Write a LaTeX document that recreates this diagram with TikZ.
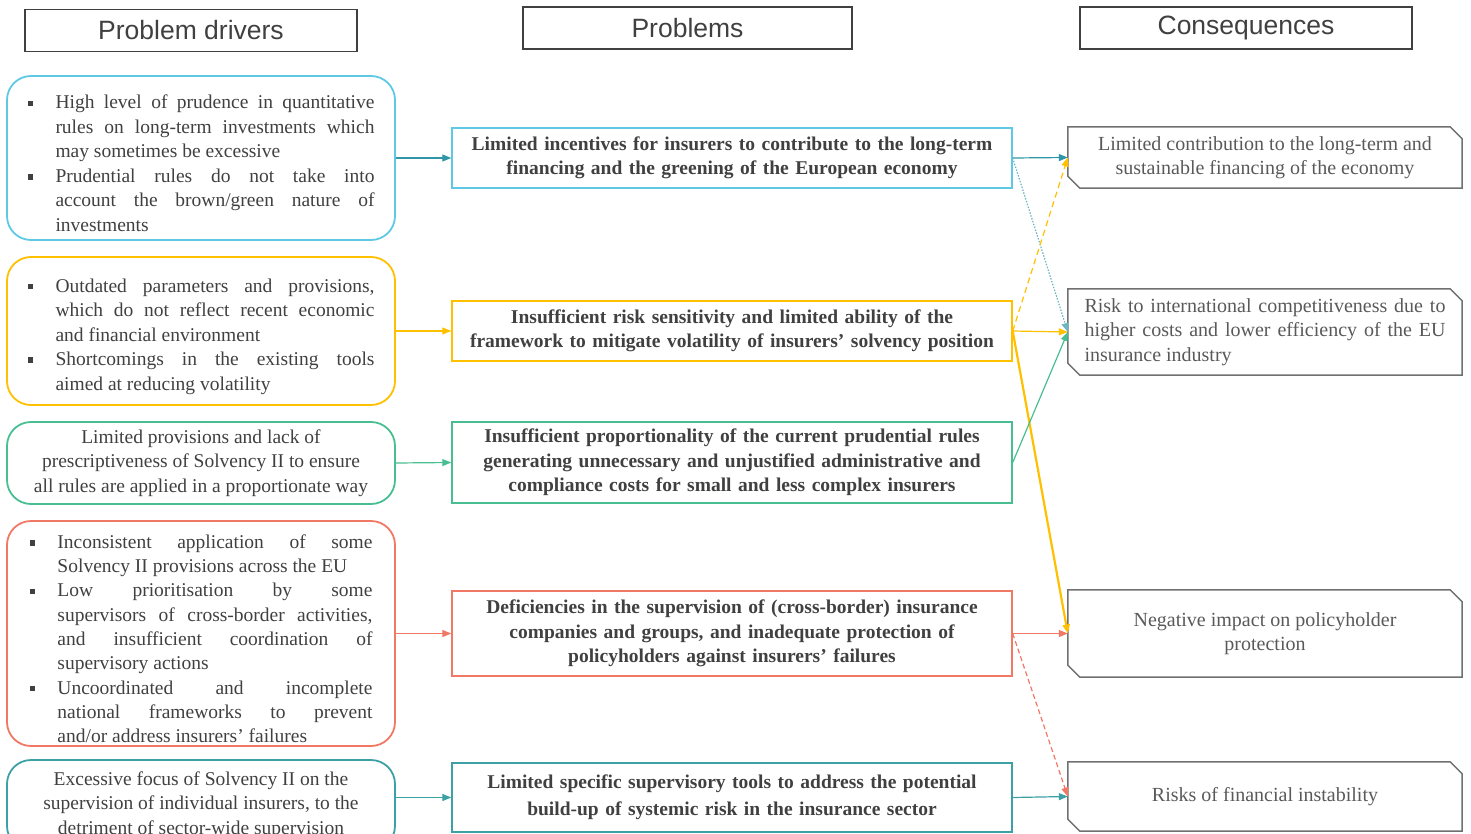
\documentclass[tikz,border=0pt]{standalone}
\usepackage{fontspec}
\setmainfont{Liberation Serif}
\setsansfont{Liberation Sans}
\usetikzlibrary{arrows.meta}

\definecolor{cblue}{HTML}{5EC8E5}
\definecolor{cbluedk}{HTML}{2E96A6}
\definecolor{cyellow}{HTML}{FFC000}
\definecolor{cgreen}{HTML}{48BE91}
\definecolor{cred}{HTML}{F07864}
\definecolor{cteal}{HTML}{3CA0A5}
\definecolor{txgray}{HTML}{404040}
\definecolor{cqgray}{HTML}{595959}
\definecolor{bxgray}{HTML}{707070}

\newcommand\bul{\raisebox{0.3ex}{\rule{5.5pt}{5.5pt}}}
\newcommand\bitem{\par\noindent\hangindent=28pt\hangafter=1\makebox[28pt][l]{\bul}}
\newcommand\bodyfont{\fontsize{19.5}{24.5}\selectfont\hyphenpenalty=10000\exhyphenpenalty=10000\relax}
\newcommand\redfont{\fontsize{19.5}{24.3}\selectfont\hyphenpenalty=10000\exhyphenpenalty=10000\relax}
\newcommand\csqfont{\fontsize{20}{24.5}\selectfont\hyphenpenalty=10000\relax}

\begin{document}
\begin{tikzpicture}[x=1pt,y=-1pt,
  header/.style={draw=txgray, line width=1.3pt, text=txgray, inner sep=0pt,
    font=\sffamily\fontsize{26.5}{30}\selectfont, minimum width=332pt, minimum height=42pt},
  driver/.style={draw, rounded corners=24pt, line width=1.8pt, text=txgray, inner sep=0pt,
    minimum width=388pt, font=\bodyfont},
  problem/.style={draw, line width=1.4pt, text=txgray, inner sep=0pt, minimum width=560pt,
    text width=550pt, align=center, font=\bfseries\bodyfont},
  conseq/.style={text=cqgray, inner sep=0pt, minimum width=394pt, font=\csqfont},
  link/.style={-{Triangle[length=9pt,width=7pt]}, line width=1.2pt}
]
\useasboundingbox (0,0) rectangle (1471,834);
\clip (0,0) rectangle (1471,834);

% column headers
\node[header] (hdrv) at (191,30.5) {Problem drivers};
\node[header, minimum width=329pt] (hprb) at (687.5,28) {Problems};
\node[header] (hcsq) at (1246,28) {Consequences};

% problem drivers
\node[driver, draw=cblue, minimum height=164pt, text width=347pt, align=justify] (drv1) at (201,158) {%
\bitem High level of prudence in quantitative\linebreak rules on long-term investments which\linebreak may sometimes be excessive
\bitem Prudential rules do not take into\linebreak account the brown/green nature of\linebreak investments\par};
\node[driver, draw=cyellow, minimum height=148pt, text width=347pt, align=justify] (drv2) at (201,331) {%
\bitem Outdated parameters and provisions,\linebreak which do not reflect recent economic\linebreak and financial environment
\bitem Shortcomings in the existing tools\linebreak aimed at reducing volatility\par};
\node[driver, draw=cgreen, minimum height=82pt, align=center] (drv3) at (201,463) {Limited provisions and lack of\\
prescriptiveness of Solvency II to ensure\\ all rules are applied in a proportionate way};
\node[driver, draw=cred, minimum height=225pt, text width=343pt, align=justify, font=\redfont] (drv4) at (201,633.5) {%
\bitem Inconsistent application of some\linebreak Solvency II provisions across the EU
\bitem Low prioritisation by some\linebreak supervisors of cross-border activities,\linebreak and insufficient coordination of\linebreak supervisory actions
\bitem Uncoordinated and incomplete\linebreak national frameworks to prevent\linebreak and/or address insurers’ failures\par};
\node[driver, draw=cteal, minimum height=90pt, align=center] (drv5) at (201,805) {Excessive focus of Solvency II on the\\
supervision of individual insurers, to the\\ detriment of sector-wide supervision};

% problems
\node[problem, draw=cblue, minimum height=60pt] (prb1) at (732,158) {Limited incentives for insurers to contribute to the long-term\\
financing and the greening of the European economy};
\node[problem, draw=cyellow, minimum height=60pt] (prb2) at (732,331) {Insufficient risk sensitivity and limited ability of the\\
framework to mitigate volatility of insurers’ solvency position};
\node[problem, draw=cgreen, minimum height=81pt] (prb3) at (732,462.5) {Insufficient proportionality of the current prudential rules\\
generating unnecessary and unjustified administrative and\\ compliance costs for small and less complex insurers};
\node[problem, draw=cred, minimum height=85pt] (prb4) at (732,633.5) {Deficiencies in the supervision of (cross-border) insurance\\
companies and groups, and inadequate protection of\\ policyholders against insurers’ failures};
\node[problem, draw=cteal, minimum height=69pt, font=\bfseries\fontsize{19.5}{27}\selectfont] (prb5) at (732,797.5) {Limited specific supervisory tools to address the potential\\
build-up of systemic risk in the insurance sector};

% consequences
\node[conseq, minimum height=61pt, align=center] (csq1) at (1265,157.5) {Limited contribution to the long-term and\\
sustainable financing of the economy};
\node[conseq, minimum height=86pt, text width=361pt, align=justify] (csq2) at (1265,332) {Risk to international competitiveness due to\linebreak
higher costs and lower efficiency of the EU\linebreak insurance industry\par};
\node[conseq, minimum height=87pt, align=center] (csq3) at (1265,633.5) {Negative impact on policyholder\\ protection};
\node[conseq, minimum height=69pt, align=center] (csq4) at (1265,796.5) {Risks of financial instability};

\foreach \n in {csq1,csq2,csq3,csq4}
  \draw[bxgray, line width=1.5pt] (\n.north west) -- ([xshift=-12pt]\n.north east) -- ([yshift=-12pt]\n.north east)
    -- (\n.south east) -- ([xshift=12pt]\n.south west) -- ([yshift=12pt]\n.south west) -- cycle;

% drivers to problems
\draw[link, cbluedk] (drv1.east) -- (prb1.west);
\draw[link, cyellow] (drv2.east) -- (prb2.west);
\draw[link, cgreen] (drv3.east) -- (prb3.west);
\draw[link, cred] (drv4.east) -- (prb4.west);
\draw[link, cteal] (drv5.east |- prb5.west) -- (prb5.west);

% problems to consequences
\draw[link, cbluedk] (prb1.east) -- (csq1.west);
\draw[link, cbluedk!70, dash pattern=on 1.5pt off 1.5pt] (prb1.east) -- (csq2.west);
\draw[link, cyellow, dash pattern=on 6pt off 4pt] (prb2.east) -- (csq1.west);
\draw[link, cyellow] (prb2.east) -- (csq2.west);
\draw[link, cyellow, line width=2.2pt] (prb2.east) -- (csq3.west);
\draw[link, cgreen] (prb3.east) -- (csq2.west);
\draw[link, cred] (prb4.east) -- (csq3.west);
\draw[link, cred, dash pattern=on 5pt off 3pt] (prb4.east) -- (csq4.west);
\draw[link, cteal] (prb5.east) -- (csq4.west);

\end{tikzpicture}
\end{document}
